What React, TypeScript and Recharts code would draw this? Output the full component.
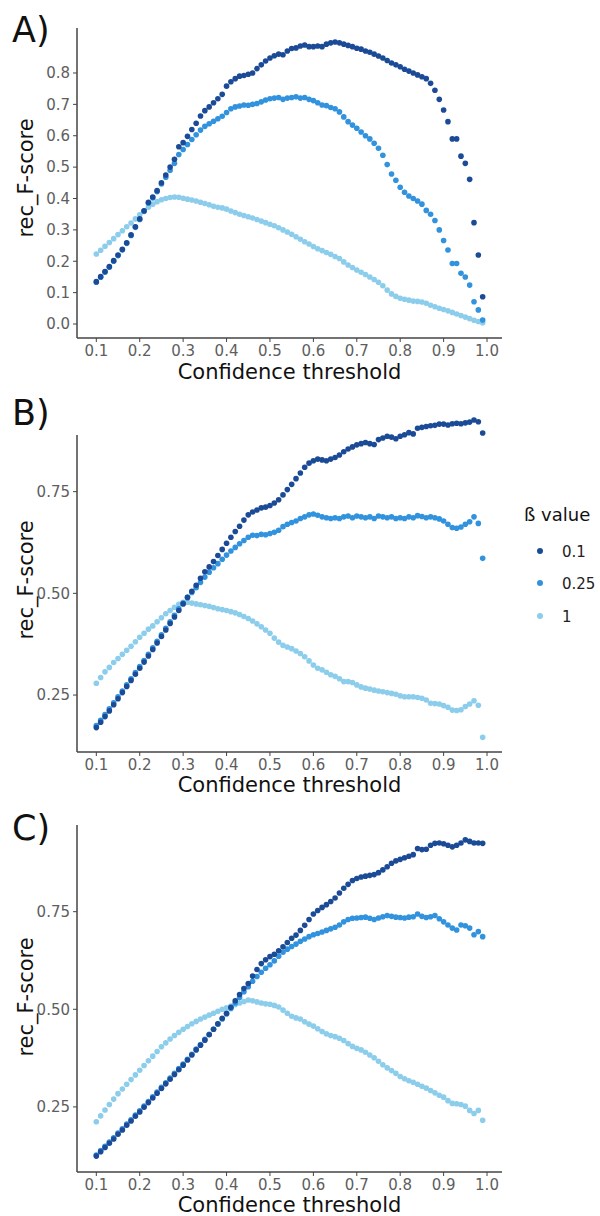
import React from 'react';
import { ScatterChart, Scatter, XAxis, YAxis, ReferenceLine } from 'recharts';

const FONT = '"DejaVu Sans", "Liberation Sans", sans-serif';
const COLOR_01 = '#1B4B97';
const COLOR_025 = '#3192DD';
const COLOR_1 = '#8BCDEB';

const thresholds = [
  0.10, 0.11, 0.12, 0.13, 0.14, 0.15, 0.16, 0.17, 0.18, 0.19,
  0.20, 0.21, 0.22, 0.23, 0.24, 0.25, 0.26, 0.27, 0.28, 0.29,
  0.30, 0.31, 0.32, 0.33, 0.34, 0.35, 0.36, 0.37, 0.38, 0.39,
  0.40, 0.41, 0.42, 0.43, 0.44, 0.45, 0.46, 0.47, 0.48, 0.49,
  0.50, 0.51, 0.52, 0.53, 0.54, 0.55, 0.56, 0.57, 0.58, 0.59,
  0.60, 0.61, 0.62, 0.63, 0.64, 0.65, 0.66, 0.67, 0.68, 0.69,
  0.70, 0.71, 0.72, 0.73, 0.74, 0.75, 0.76, 0.77, 0.78, 0.79,
  0.80, 0.81, 0.82, 0.83, 0.84, 0.85, 0.86, 0.87, 0.88, 0.89,
  0.90, 0.91, 0.92, 0.93, 0.94, 0.95, 0.96, 0.97, 0.98, 0.99,
];

const xTicks = [0.1, 0.2, 0.3, 0.4, 0.5, 0.6, 0.7, 0.8, 0.9, 1.0];
const yTicksA = [0, 0.1, 0.2, 0.3, 0.4, 0.5, 0.6, 0.7, 0.8];
const yTicksBC = [0.25, 0.5, 0.75];
const legendLabels = ['0.1', '0.25', '1'];

// Panel A
const aBeta01 = [
  0.135, 0.151, 0.167, 0.183, 0.202, 0.220, 0.238, 0.259, 0.284, 0.310,
  0.335, 0.361, 0.388, 0.405, 0.425, 0.450, 0.475, 0.500, 0.525, 0.565,
  0.578, 0.598, 0.620, 0.640, 0.663, 0.680, 0.692, 0.705, 0.718, 0.732,
  0.758, 0.772, 0.782, 0.790, 0.792, 0.796, 0.800, 0.814, 0.826, 0.838,
  0.848, 0.855, 0.860, 0.858, 0.870, 0.878, 0.880, 0.886, 0.889, 0.884,
  0.884, 0.886, 0.884, 0.892, 0.896, 0.899, 0.896, 0.892, 0.888, 0.884,
  0.879, 0.876, 0.870, 0.866, 0.860, 0.854, 0.848, 0.840, 0.832, 0.826,
  0.820, 0.812, 0.806, 0.800, 0.794, 0.788, 0.782, 0.767, 0.745, 0.716,
  0.682, 0.645, 0.590, 0.590, 0.535, 0.512, 0.461, 0.323, 0.220, 0.087,
];
const aBeta025 = [
  0.133, 0.149, 0.165, 0.181, 0.200, 0.218, 0.236, 0.257, 0.282, 0.308,
  0.333, 0.359, 0.385, 0.402, 0.422, 0.446, 0.468, 0.490, 0.512, 0.540,
  0.556, 0.572, 0.588, 0.603, 0.618, 0.630, 0.638, 0.646, 0.654, 0.662,
  0.674, 0.686, 0.692, 0.695, 0.698, 0.697, 0.700, 0.703, 0.708, 0.714,
  0.718, 0.720, 0.722, 0.716, 0.720, 0.722, 0.724, 0.720, 0.722, 0.716,
  0.712, 0.705, 0.698, 0.696, 0.690, 0.686, 0.676, 0.660, 0.645, 0.634,
  0.624, 0.612, 0.600, 0.590, 0.576, 0.560, 0.538, 0.508, 0.478, 0.458,
  0.436, 0.420, 0.408, 0.400, 0.392, 0.382, 0.362, 0.350, 0.330, 0.300,
  0.266, 0.236, 0.193, 0.193, 0.162, 0.150, 0.124, 0.071, 0.045, 0.013,
];
const aBeta1 = [
  0.223, 0.235, 0.248, 0.260, 0.272, 0.285, 0.297, 0.310, 0.322, 0.335,
  0.348, 0.360, 0.372, 0.382, 0.390, 0.396, 0.400, 0.403, 0.405, 0.404,
  0.401, 0.398, 0.395, 0.392, 0.388, 0.384, 0.380, 0.375, 0.372, 0.370,
  0.366, 0.360, 0.355, 0.350, 0.346, 0.342, 0.338, 0.333, 0.328, 0.323,
  0.318, 0.313, 0.307, 0.300, 0.293, 0.286, 0.278, 0.270, 0.262, 0.255,
  0.247, 0.240, 0.234, 0.228, 0.222, 0.215, 0.209, 0.198, 0.188, 0.180,
  0.172, 0.165, 0.158, 0.150, 0.142, 0.133, 0.122, 0.108, 0.096, 0.088,
  0.082, 0.079, 0.076, 0.073, 0.072, 0.070, 0.066, 0.060, 0.055, 0.050,
  0.046, 0.042, 0.037, 0.032, 0.027, 0.022, 0.017, 0.012, 0.008, 0.004,
];

// Panel B
const bBeta01 = [
  0.170, 0.183, 0.197, 0.211, 0.226, 0.241, 0.256, 0.271, 0.286, 0.301,
  0.316, 0.331, 0.346, 0.362, 0.378, 0.394, 0.410, 0.426, 0.442, 0.458,
  0.474, 0.490, 0.505, 0.520, 0.537, 0.553, 0.565, 0.578, 0.593, 0.608,
  0.623, 0.638, 0.652, 0.665, 0.680, 0.693, 0.700, 0.705, 0.710, 0.712,
  0.716, 0.722, 0.730, 0.742, 0.755, 0.768, 0.782, 0.796, 0.810, 0.820,
  0.826, 0.830, 0.828, 0.826, 0.830, 0.834, 0.840, 0.848, 0.855, 0.860,
  0.865, 0.868, 0.871, 0.868, 0.866, 0.878, 0.882, 0.886, 0.884, 0.880,
  0.886, 0.890, 0.895, 0.892, 0.906, 0.908, 0.910, 0.912, 0.913, 0.916,
  0.916, 0.914, 0.917, 0.918, 0.917, 0.919, 0.921, 0.926, 0.922, 0.894,
];
const bBeta025 = [
  0.175, 0.188, 0.202, 0.216, 0.231, 0.246, 0.260, 0.275, 0.290, 0.305,
  0.320, 0.335, 0.350, 0.366, 0.382, 0.398, 0.414, 0.430, 0.446, 0.462,
  0.476, 0.490, 0.502, 0.514, 0.527, 0.540, 0.552, 0.563, 0.573, 0.584,
  0.594, 0.604, 0.613, 0.622, 0.630, 0.638, 0.643, 0.642, 0.645, 0.644,
  0.647, 0.650, 0.655, 0.664, 0.670, 0.674, 0.678, 0.684, 0.688, 0.693,
  0.695, 0.692, 0.688, 0.686, 0.684, 0.686, 0.684, 0.688, 0.690, 0.686,
  0.690, 0.688, 0.686, 0.688, 0.684, 0.690, 0.688, 0.686, 0.688, 0.684,
  0.686, 0.684, 0.688, 0.686, 0.691, 0.689, 0.686, 0.688, 0.686, 0.683,
  0.678, 0.670, 0.662, 0.660, 0.663, 0.670, 0.676, 0.688, 0.672, 0.586,
];
const bBeta1 = [
  0.279, 0.293, 0.307, 0.318, 0.330, 0.340, 0.350, 0.360, 0.370, 0.381,
  0.392, 0.402, 0.412, 0.420, 0.430, 0.440, 0.450, 0.458, 0.466, 0.473,
  0.478, 0.478, 0.476, 0.474, 0.472, 0.470, 0.468, 0.465, 0.462, 0.460,
  0.458, 0.455, 0.452, 0.448, 0.443, 0.438, 0.432, 0.425, 0.418, 0.410,
  0.402, 0.390, 0.380, 0.372, 0.368, 0.364, 0.358, 0.352, 0.344, 0.334,
  0.324, 0.316, 0.312, 0.306, 0.300, 0.296, 0.290, 0.283, 0.283, 0.281,
  0.275, 0.270, 0.267, 0.265, 0.262, 0.260, 0.258, 0.256, 0.254, 0.252,
  0.248, 0.246, 0.246, 0.246, 0.244, 0.242, 0.238, 0.230, 0.229, 0.228,
  0.224, 0.220, 0.213, 0.212, 0.214, 0.222, 0.228, 0.236, 0.225, 0.146,
];

// Panel C
const cBeta01 = [
  0.124, 0.135, 0.146, 0.157, 0.168, 0.180, 0.191, 0.203, 0.214, 0.226,
  0.237, 0.249, 0.261, 0.273, 0.285, 0.297, 0.309, 0.321, 0.333, 0.345,
  0.357, 0.370, 0.383, 0.396, 0.408, 0.421, 0.435, 0.449, 0.463, 0.477,
  0.490, 0.505, 0.522, 0.538, 0.553, 0.566, 0.585, 0.602, 0.617, 0.627,
  0.635, 0.641, 0.650, 0.660, 0.671, 0.682, 0.690, 0.702, 0.715, 0.730,
  0.744, 0.753, 0.761, 0.768, 0.776, 0.785, 0.798, 0.810, 0.820, 0.830,
  0.835, 0.839, 0.841, 0.843, 0.845, 0.850, 0.857, 0.865, 0.874, 0.880,
  0.884, 0.888, 0.892, 0.896, 0.912, 0.909, 0.910, 0.920, 0.925, 0.926,
  0.924, 0.920, 0.916, 0.920, 0.926, 0.934, 0.930, 0.926, 0.926, 0.925,
];
const cBeta025 = [
  0.127, 0.138, 0.149, 0.160, 0.171, 0.183, 0.194, 0.206, 0.217, 0.229,
  0.240, 0.252, 0.264, 0.276, 0.288, 0.300, 0.312, 0.324, 0.336, 0.348,
  0.360, 0.372, 0.385, 0.398, 0.410, 0.423, 0.436, 0.449, 0.462, 0.475,
  0.488, 0.502, 0.516, 0.530, 0.545, 0.558, 0.572, 0.584, 0.595, 0.605,
  0.614, 0.624, 0.636, 0.646, 0.654, 0.661, 0.667, 0.674, 0.680, 0.686,
  0.691, 0.694, 0.698, 0.702, 0.706, 0.710, 0.716, 0.724, 0.730, 0.733,
  0.734, 0.735, 0.736, 0.733, 0.730, 0.734, 0.737, 0.740, 0.738, 0.736,
  0.735, 0.734, 0.736, 0.737, 0.744, 0.738, 0.735, 0.737, 0.740, 0.732,
  0.724, 0.716, 0.708, 0.703, 0.716, 0.714, 0.708, 0.691, 0.699, 0.686,
];
const cBeta1 = [
  0.212, 0.227, 0.242, 0.256, 0.270, 0.284, 0.296, 0.308, 0.320, 0.332,
  0.344, 0.356, 0.368, 0.380, 0.392, 0.404, 0.414, 0.424, 0.433, 0.441,
  0.449, 0.456, 0.463, 0.469, 0.475, 0.480, 0.485, 0.490, 0.495, 0.500,
  0.504, 0.508, 0.512, 0.516, 0.520, 0.524, 0.522, 0.519, 0.516, 0.514,
  0.513, 0.510, 0.506, 0.498, 0.490, 0.482, 0.478, 0.475, 0.468, 0.462,
  0.457, 0.450, 0.443, 0.437, 0.433, 0.430, 0.426, 0.420, 0.412, 0.405,
  0.400, 0.396, 0.390, 0.383, 0.376, 0.367, 0.358, 0.350, 0.343, 0.336,
  0.328, 0.322, 0.317, 0.313, 0.308, 0.303, 0.298, 0.292, 0.286, 0.280,
  0.275, 0.266, 0.259, 0.258, 0.256, 0.252, 0.241, 0.233, 0.241, 0.216,
];

const X_DOMAIN: [number, number] = [0.0555, 1.0345];
const AXIS_COLOR = '#444444';
const TICK_COLOR = '#5e5e5e';

const toPoints = (vals: number[]) => thresholds.map((x, i) => ({ x, y: vals[i] }));

const makeDot = (color: string) => (props: any) => (
  <circle cx={props.cx} cy={props.cy} r={2.8} fill={color} />
);

type PanelProps = {
  top: number;
  height: number;
  margin: { top: number; right: number; bottom: number; left: number };
  yDomain: [number, number];
  yTicks: number[];
  yDigits: number;
  yLineTop?: number;
  s01: number[];
  s025: number[];
  s1: number[];
};

function Panel({ top, height, margin, yDomain, yTicks, yDigits, yLineTop, s01, s025, s1 }: PanelProps) {
  const tickStyle = { fill: TICK_COLOR, fontSize: 15, fontFamily: FONT };
  return (
    <div style={{ position: 'absolute', left: 0, top, width: 600, height }}>
      <ScatterChart width={600} height={height} margin={margin}>
        <XAxis
          type="number"
          dataKey="x"
          domain={X_DOMAIN}
          ticks={xTicks}
          allowDataOverflow
          height={30}
          tickSize={4}
          tickMargin={3}
          tickFormatter={(v: number) => v.toFixed(1)}
          axisLine={{ stroke: AXIS_COLOR, strokeWidth: 1.5 }}
          tickLine={{ stroke: AXIS_COLOR, strokeWidth: 1 }}
          tick={tickStyle}
        />
        <YAxis
          type="number"
          dataKey="y"
          domain={yDomain}
          ticks={yTicks}
          allowDataOverflow
          width={40}
          tickSize={4}
          tickMargin={3}
          tickFormatter={(v: number) => v.toFixed(yDigits)}
          axisLine={yLineTop === undefined ? { stroke: AXIS_COLOR, strokeWidth: 1.5 } : false}
          tickLine={{ stroke: AXIS_COLOR, strokeWidth: 1 }}
          tick={tickStyle}
        />
        {yLineTop !== undefined && (
          <ReferenceLine
            segment={[
              { x: X_DOMAIN[0], y: yDomain[0] },
              { x: X_DOMAIN[0], y: yLineTop },
            ]}
            stroke={AXIS_COLOR}
            strokeWidth={1.5}
            ifOverflow="visible"
          />
        )}
        <Scatter data={toPoints(s1)} shape={makeDot(COLOR_1)} isAnimationActive={false} />
        <Scatter data={toPoints(s025)} shape={makeDot(COLOR_025)} isAnimationActive={false} />
        <Scatter data={toPoints(s01)} shape={makeDot(COLOR_01)} isAnimationActive={false} />
      </ScatterChart>
    </div>
  );
}

function Overlay() {
  const titleStyle = { fontFamily: FONT, fontSize: 21, fill: '#111' };
  const letterStyle = { fontFamily: FONT, fontSize: 35, fill: '#111' };
  const colors = [COLOR_01, COLOR_025, COLOR_1];
  const legendY = [551, 583, 616];
  return (
    <svg
      width={600}
      height={1216}
      style={{ position: 'absolute', left: 0, top: 0, pointerEvents: 'none' }}
    >
      <text x={12} y={42} style={letterStyle}>A)</text>
      <text x={12} y={425} style={letterStyle}>B)</text>
      <text x={12} y={840} style={letterStyle}>C)</text>

      <text x={289.5} y={379} textAnchor="middle" style={titleStyle}>Confidence threshold</text>
      <text x={289.5} y={792} textAnchor="middle" style={titleStyle}>Confidence threshold</text>
      <text x={289.5} y={1212} textAnchor="middle" style={titleStyle}>Confidence threshold</text>

      <text transform="translate(33,178) rotate(-90)" textAnchor="middle" style={titleStyle}>rec_F-score</text>
      <text transform="translate(33,580) rotate(-90)" textAnchor="middle" style={titleStyle}>rec_F-score</text>
      <text transform="translate(33,997) rotate(-90)" textAnchor="middle" style={titleStyle}>rec_F-score</text>

      <text x={524} y={521} style={{ fontFamily: FONT, fontSize: 18, fill: '#111' }}>ß value</text>
      {legendLabels.map((lab, i) => (
        <g key={lab}>
          <circle cx={540} cy={legendY[i]} r={3} fill={colors[i]} />
          <text x={562} y={legendY[i] + 5.5} style={{ fontFamily: FONT, fontSize: 15, fill: '#222' }}>
            {lab}
          </text>
        </g>
      ))}
    </svg>
  );
}

export default function App() {
  return (
    <div style={{ position: 'absolute', left: 0, top: 0, width: 600, height: 1216, background: '#fff' }}>
      <Panel
        top={0}
        height={390}
        margin={{ top: 28, right: 98, bottom: 22, left: 37 }}
        yDomain={[-0.0446, 0.9434]}
        yTicks={yTicksA}
        yDigits={1}
        s01={aBeta01}
        s025={aBeta025}
        s1={aBeta1}
      />
      <Panel
        top={380}
        height={420}
        margin={{ top: 25, right: 98, bottom: 18, left: 37 }}
        yDomain={[0.110, 0.963]}
        yTicks={yTicksBC}
        yDigits={2}
        yLineTop={0.889}
        s01={bBeta01}
        s025={bBeta025}
        s1={bBeta1}
      />
      <Panel
        top={800}
        height={416}
        margin={{ top: 25, right: 98, bottom: 14, left: 37 }}
        yDomain={[0.0833, 0.972]}
        yTicks={yTicksBC}
        yDigits={2}
        s01={cBeta01}
        s025={cBeta025}
        s1={cBeta1}
      />
      <Overlay />
    </div>
  );
}
